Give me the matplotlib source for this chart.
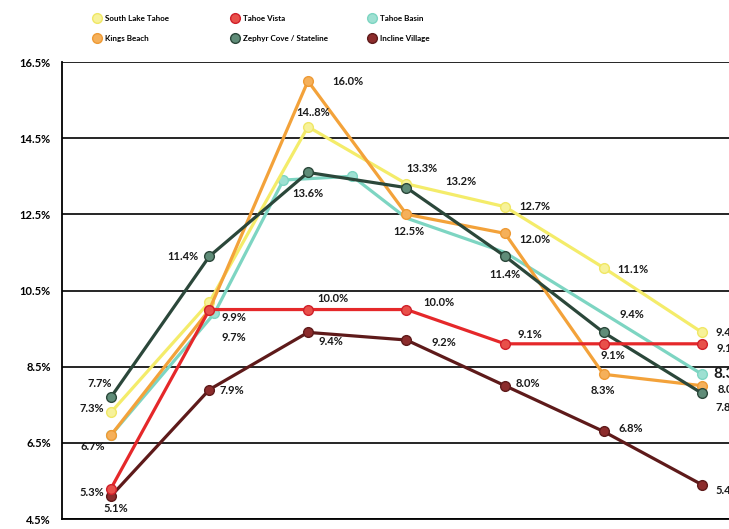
import matplotlib
matplotlib.use("Agg")
import matplotlib.pyplot as plt
from matplotlib.lines import Line2D

plt.rcParams['font.family'] = ['Lato', 'DejaVu Sans']
plt.rcParams['font.weight'] = 'bold'

# ---------------- data ----------------
x = [0, 1, 2, 3, 4, 5, 6]
south_lake_tahoe = [7.3, 10.2, 14.8, 13.3, 12.7, 11.1, 9.4]
kings_beach = [6.7, 10.0, 16.0, 12.5, 12.0, 8.3, 8.0]
tahoe_vista = [5.3, 10.0, 10.0, 10.0, 9.1, 9.1, 9.1]
zephyr_cove = [7.7, 11.4, 13.6, 13.2, 11.4, 9.4, 7.8]
tahoe_basin_x = [0, 1.05, 1.75, 2.45, 3, 4, 6]
tahoe_basin = [6.7, 9.9, 13.4, 13.5, 12.4, 11.5, 8.3]
incline_village = [5.1, 7.9, 9.4, 9.2, 8.0, 6.8, 5.4]
yticks = [4.5, 6.5, 8.5, 10.5, 12.5, 14.5, 16.5]
ytick_labels = ['4.5%', '6.5%', '8.5%', '10.5%', '12.5%', '14.5%', '16.5%']

# ---------------- figure ----------------
W, H = 729, 529
fig = plt.figure(figsize=(W / 100, H / 100), dpi=100)
ax = fig.add_axes([62 / W, 10 / H, (W - 62) / W, (519 - 62) / H])
ax.set_xlim(-0.497, 6.274)
ax.set_ylim(4.5, 16.5)

for y in yticks:
    ax.axhline(y, color='black', lw=1.2, zorder=1)
ax.set_yticks(yticks)
ax.set_yticklabels(ytick_labels, fontsize=8, fontweight='bold')
ax.tick_params(axis='y', length=0, pad=8)
ax.set_xticks([])
for s in ['top', 'right']:
    ax.spines[s].set_visible(False)
ax.spines['left'].set_linewidth(1.3)
ax.spines['bottom'].set_linewidth(1.3)

styles = {
    'South Lake Tahoe': dict(color='#F4EC6A', mfc='#F7F29A', mec='#F0E765'),
    'Kings Beach': dict(color='#F3A23A', mfc='#F5B05A', mec='#EE9A35'),
    'Tahoe Vista': dict(color='#E5282A', mfc='#E8504A', mec='#D0202A'),
    'Zephyr Cove / Stateline': dict(color='#2B473A', mfc='#5F8C78', mec='#2B473A'),
    'Tahoe Basin': dict(color='#7DD5C2', mfc='#9EE0D2', mec='#7DD5C2'),
    'Incline Village': dict(color='#5E1A1A', mfc='#8C2C2C', mec='#5E1A1A'),
}

def draw(xs, ys, name, z, markevery=None):
    st = styles[name]
    ax.plot(xs, ys, color=st['color'], lw=2.3, marker='o', ms=7,
            mfc=st['mfc'], mec=st['mec'], mew=1.0, zorder=z,
            markevery=markevery, solid_joinstyle='round')

draw(tahoe_basin_x, tahoe_basin, 'Tahoe Basin', 3, markevery=[0, 1, 2, 3, 6])
draw(x, south_lake_tahoe, 'South Lake Tahoe', 4)
draw(x, kings_beach, 'Kings Beach', 5)
draw(x, zephyr_cove, 'Zephyr Cove / Stateline', 6)
draw(x, incline_village, 'Incline Village', 7)
draw(x, tahoe_vista, 'Tahoe Vista', 8)

# ---------------- value labels ----------------
series = {
    'slt': (x, south_lake_tahoe), 'kb': (x, kings_beach), 'tv': (x, tahoe_vista),
    'zc': (x, zephyr_cove), 'tb': (tahoe_basin_x, tahoe_basin), 'iv': (x, incline_village),
}
labels = [
    ('zc', 0, '7.7%', -11, 14, 'center'),
    ('slt', 0, '7.3%', -19, 4, 'center'),
    ('kb', 0, '6.7%', -18, -11, 'center'),
    ('tv', 0, '5.3%', -19, -4, 'center'),
    ('iv', 0, '5.1%', 5, -12, 'center'),
    ('zc', 1, '11.4%', -27, 0, 'center'),
    ('tb', 1, '9.9%', 20, -4, 'center'),
    ('kb', 1, '9.7%', 24, -28, 'center'),
    ('iv', 1, '7.9%', 22, -1, 'center'),
    ('slt', 2, '14..8%', 5, 14, 'center'),
    ('kb', 2, '16.0%', 40, 0, 'center'),
    ('zc', 2, '13.6%', 0, -21, 'center'),
    ('slt', 3, '13.3%', 15, 15, 'center'),
    ('zc', 3, '13.2%', 54, 6, 'center'),
    ('kb', 3, '12.5%', 2, -17, 'center'),
    ('slt', 4, '12.7%', 30, 0, 'center'),
    ('kb', 4, '12.0%', 30, -6, 'center'),
    ('zc', 4, '11.4%', 0, -18, 'center'),
    ('slt', 5, '11.1%', 29, -2, 'center'),
    ('tv', 2, '10.0%', 25, 11, 'center'),
    ('tv', 3, '10.0%', 32, 7, 'center'),
    ('iv', 2, '9.4%', 23, -9, 'center'),
    ('iv', 3, '9.2%', 37, -2, 'center'),
    ('tv', 4, '9.1%', 25, 9, 'center'),
    ('iv', 4, '8.0%', 23, 2, 'center'),
    ('zc', 5, '9.4%', 28, 18, 'center'),
    ('tv', 5, '9.1%', 9, -12, 'center'),
    ('kb', 5, '8.3%', -1, -16, 'center'),
    ('iv', 5, '6.8%', 27, 3, 'center'),
    ('slt', 6, '9.4%', 13, 0, 'left'),
    ('tv', 6, '9.1%', 14, -5, 'left'),
    ('tb', 6, '8.3%', 11, 0, 'left'),
    ('kb', 6, '8.0%', 16, -4, 'left'),
    ('zc', 6, '7.8%', 13, -14, 'left'),
    ('iv', 6, '5.4%', 13, -6, 'left'),
]
for key, i, txt, dx, dy, ha in labels:
    xs, ys = series[key]
    fs = 11 if (key == 'tb' and i == 6) else 8
    ax.annotate(txt, (xs[i], ys[i]), xytext=(dx, dy), textcoords='offset pixels',
                ha=ha, va='center', fontsize=fs, fontweight='bold',
                color='#1a1a1a', annotation_clip=False, zorder=10)

# ---------------- legend ----------------
cols = [
    ['South Lake Tahoe', 'Kings Beach'],
    ['Tahoe Vista', 'Zephyr Cove / Stateline'],
    ['Tahoe Basin', 'Incline Village'],
]
col_x = [94, 232, 369]
for cx, names in zip(col_x, cols):
    handles = [Line2D([], [], ls='none', marker='o', ms=7,
                      mfc=styles[n]['mfc'], mec=styles[n]['mec']) for n in names]
    fig.legend(handles, names, loc='upper left',
               bbox_to_anchor=(cx / W, 1 - 15 / H), frameon=False,
               prop={'size': 5.8, 'weight': 'bold'}, handlelength=0.8,
               handletextpad=0.6, labelspacing=1.65, borderaxespad=0,
               borderpad=0)

fig.savefig('out.png', dpi=100)
